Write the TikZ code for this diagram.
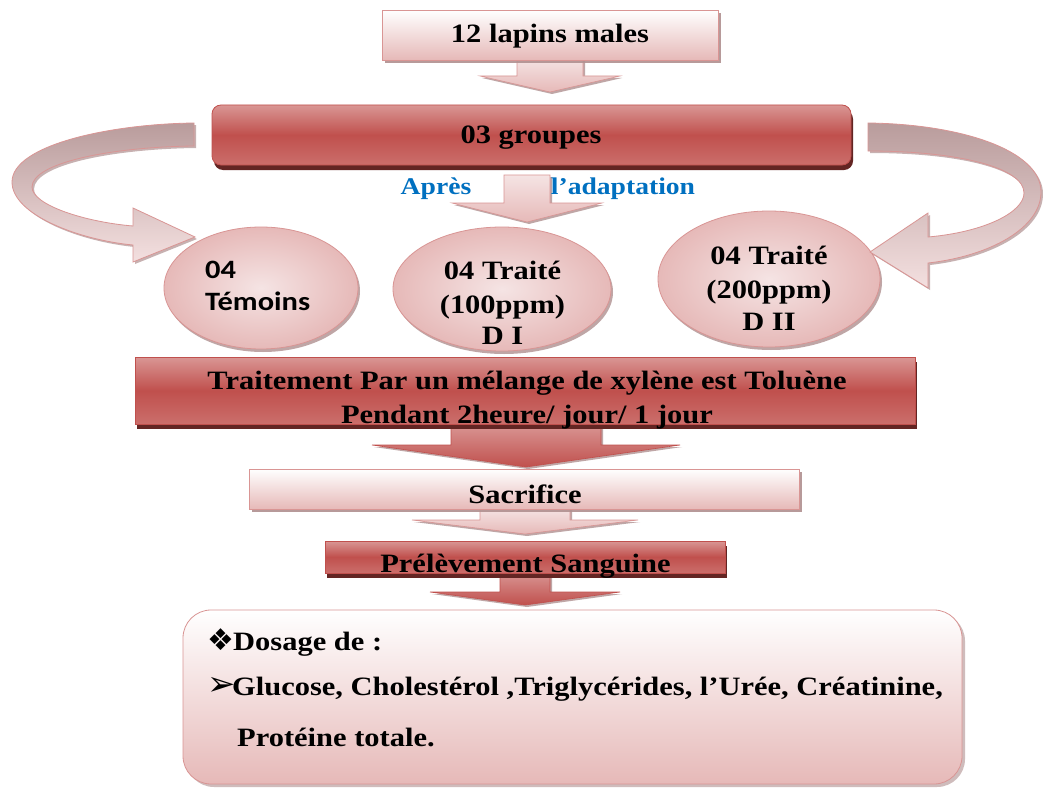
\documentclass[tikz,border=0pt]{standalone}
\usepackage{fontspec}
\setmainfont{Liberation Serif}[FakeStretch=1.15]
\newfontfamily\calib{Carlito}[FakeStretch=1.15]
\newfontfamily\dingf{DejaVu Sans}
\usetikzlibrary{shapes.geometric,shadows}
\definecolor{redmid}{HTML}{C0504D}
\definecolor{redlt}{HTML}{D99694}
\definecolor{redbot}{HTML}{CB6E6B}
\definecolor{redsh}{HTML}{632523}
\definecolor{pinkbd}{HTML}{D99594}
\definecolor{pinklt}{HTML}{F5E4E4}
\definecolor{pinkmd}{HTML}{E6B9B8}
\definecolor{bluetx}{HTML}{0070C0}
\definecolor{greysh}{HTML}{B09090}
\definecolor{mauve}{HTML}{B99C9C}
\newcommand{\blockarrow}[7]{%
  \draw[#1] (#2-#6,#3) -- (#2-#6,#4) -- (#2-#7,#4) -- (#2,#5) -- (#2+#7,#4) -- (#2+#6,#4) -- (#2+#6,#3) -- cycle;}
\tikzset{
  bigtxt/.style={font=\bfseries\fontsize{26.5}{33}\selectfont, inner sep=0pt, anchor=base},
  bluetxt/.style={font=\bfseries\fontsize{24}{28}\selectfont, text=bluetx, inner sep=0pt, anchor=base},
  lightbox/.style={rectangle, draw=pinkbd, line width=0.8pt, top color=white, bottom color=pinkmd,
    drop shadow={shadow xshift=3pt, shadow yshift=-3pt, fill=greysh, opacity=0.9}, inner sep=0pt},
  redbox/.style={rectangle, draw=redmid, line width=0.8pt, top color=redlt, bottom color=redbot, middle color=redmid,
    drop shadow={shadow xshift=2pt, shadow yshift=-5pt, fill=redsh, opacity=1}, inner sep=0pt},
  ell/.style={ellipse, draw=pinkbd, line width=0.8pt, inner color=pinklt, outer color=pinkmd,
    drop shadow={shadow xshift=2pt, shadow yshift=-3pt, fill=greysh, opacity=0.8}, inner sep=0pt},
  lightarrow/.style={draw=pinkbd, line width=0.6pt, top color=pinklt, bottom color=pinkmd,
    drop shadow={shadow xshift=2pt, shadow yshift=-2pt, fill=greysh, opacity=0.8}},
  redarrow/.style={draw=redmid, line width=0.6pt, top color=redlt, bottom color=redmid,
    drop shadow={shadow xshift=2pt, shadow yshift=-2pt, fill=greysh, opacity=0.8}},
  curv/.style={draw=pinkbd, line width=0.8pt, top color=mauve, bottom color=pinklt!90!pinkmd,
    drop shadow={shadow xshift=2pt, shadow yshift=-2pt, fill=greysh, opacity=0.7}},
}
\begin{document}
\begin{tikzpicture}[x=1pt,y=-1pt]
\useasboundingbox (0,0) rectangle (1043,789);
\fill[white] (0,0) rectangle (1043,789);

% block arrows between boxes
\blockarrow{lightarrow}{550}{58}{76}{92}{33}{70}
\blockarrow{lightarrow}{527}{175}{203}{222}{23}{75}
\blockarrow{redarrow}{526}{424}{445}{467}{75}{154}
\blockarrow{lightarrow}{525}{508}{520}{534}{45}{113}
\blockarrow{redarrow}{525}{572}{592}{605}{25}{95}

% boxes
\node[lightbox, minimum width=336, minimum height=50] (lapins) at (550,35) {};
\node[bigtxt] (lapinst) at (550,43) {12 lapins males};

\node[redbox, rounded corners=9pt, minimum width=639, minimum height=60] (groupes) at (531.5,135) {};
\node[bigtxt] (groupest) at (531,143) {03 groupes};

\node[bluetxt] (apres) at (436,194) {Après};
\node[bluetxt] (adapt) at (623,194) {l’adaptation};

% ellipses
\node[ell, minimum width=194, minimum height=122] (e1) at (261,288) {};
\node[ell, minimum width=218, minimum height=124] (e2) at (502,289) {};
\node[ell, minimum width=222, minimum height=136] (e3) at (769,279) {};

\node[font=\calib\bfseries\fontsize{26.5}{32}\selectfont, inner sep=0pt, anchor=base west] (e1a) at (205,278) {04};
\node[font=\calib\bfseries\fontsize{26.5}{32}\selectfont, inner sep=0pt, anchor=base west] (e1b) at (205,310) {Témoins};

\node[bigtxt] (e2a) at (502.5,279) {04 Traité};
\node[bigtxt] (e2b) at (502.5,313) {(100ppm)};
\node[bigtxt] (e2c) at (502.5,344) {D I};

\node[bigtxt] (e3a) at (769,264) {04 Traité};
\node[bigtxt] (e3b) at (769,298) {(200ppm)};
\node[bigtxt] (e3c) at (769,330) {D II};

% curved arrows
\draw[curv] (194,123) .. controls (110,124) and (12,145) .. (12,182)
  .. controls (12,215) and (80,240) .. (133,245)
  -- (133,262) -- (195,237) -- (133,208) -- (133,226)
  .. controls (85,222) and (32,205) .. (32,187)
  .. controls (32,163) and (110,147) .. (194,146) -- cycle;
\draw[curv] (868,123) .. controls (960,124) and (1041,150) .. (1041,192)
  .. controls (1041,228) and (990,256) .. (928,263)
  -- (928,288) -- (870,252) -- (928,213) -- (928,237)
  .. controls (985,232) and (1024,212) .. (1024,193)
  .. controls (1024,168) and (960,151) .. (868,151) -- cycle;

% treatment box
\node[redbox, minimum width=780, minimum height=67] (trt) at (525,390.5) {};
\node[bigtxt] (trta) at (527,389) {Traitement Par un mélange de xylène est Toluène};
\node[bigtxt] (trtb) at (527,423) {Pendant 2heure/ jour/ 1 jour};

\node[lightbox, minimum width=550, minimum height=40] (sac) at (524,489) {};
\node[bigtxt] (sact) at (525,503) {Sacrifice};

\node[redbox, minimum width=400, minimum height=32] (prl) at (525,557) {};
\node[bigtxt] (prlt) at (525.5,572) {Prélèvement Sanguine};

% bottom box
\node[rectangle, rounded corners=28pt, draw=pinkbd, line width=0.8pt, top color=white, bottom color=pinkmd,
  drop shadow={shadow xshift=3pt, shadow yshift=-3pt, fill=greysh, opacity=0.6},
  minimum width=779, minimum height=174] (dos) at (572.5,697) {};
\node[bigtxt, anchor=base west] (dosa) at (207,650) {\makebox[26pt][l]{\dingf\fontsize{30}{30}\selectfont ❖}Dosage de :};
\node[bigtxt, anchor=base west] (dosb) at (207,695) {\makebox[25pt][l]{\dingf\fontsize{34}{34}\selectfont ➢}Glucose, Cholestérol ,Triglycérides, l’Urée, Créatinine,};
\node[bigtxt, anchor=base west] (dosc) at (237,746) {Protéine totale.};
\end{tikzpicture}
\end{document}
